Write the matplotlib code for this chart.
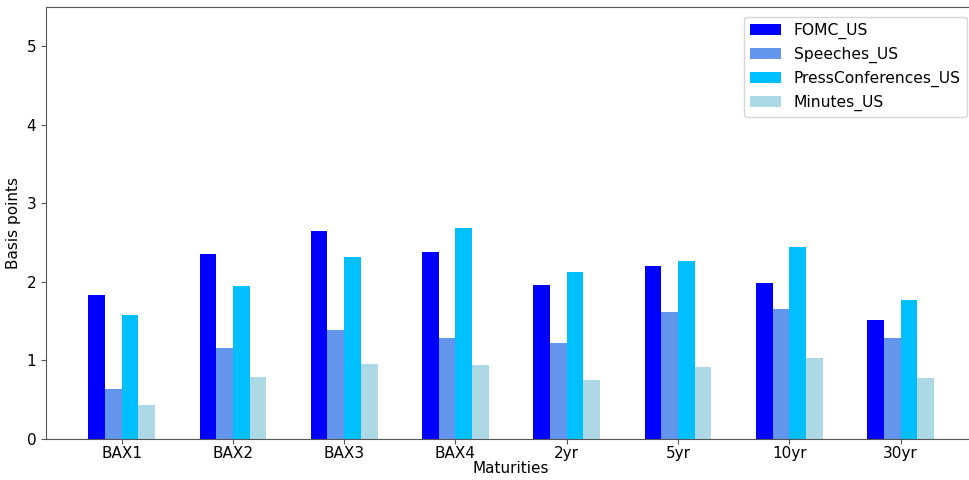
import numpy as np
import matplotlib.pyplot as plt

maturities = ["BAX1", "BAX2", "BAX3", "BAX4", "2yr", "5yr", "10yr", "30yr"]
fomc_us = [1.83, 2.36, 2.65, 2.38, 1.96, 2.20, 1.98, 1.51]
speeches_us = [0.64, 1.15, 1.38, 1.29, 1.22, 1.61, 1.65, 1.29]
press_us = [1.58, 1.95, 2.32, 2.69, 2.13, 2.26, 2.44, 1.77]
minutes_us = [0.43, 0.79, 0.95, 0.94, 0.75, 0.91, 1.03, 0.78]

series = [
    ("FOMC_US", fomc_us, "blue"),
    ("Speeches_US", speeches_us, "cornflowerblue"),
    ("PressConferences_US", press_us, "deepskyblue"),
    ("Minutes_US", minutes_us, "lightblue"),
]

fig = plt.figure(figsize=(9.7, 4.8), dpi=100)
# the original was cropped on the right, so the axes run slightly past the edge
ax = fig.add_axes([0.0474, 0.086, 0.959, 0.899])

x = np.arange(len(maturities))
w = 0.15
for i, (name, vals, col) in enumerate(series):
    ax.bar(x + (i - 1.5) * w, vals, width=w, color=col, label=name)

ax.set_xticks(x)
ax.set_xticklabels(maturities, fontsize=11)
ax.tick_params(axis="y", labelsize=11)
ax.tick_params(axis="x", pad=2)
ax.set_xlim(-0.68, 7.68)
ax.set_ylim(0, 5.5)
ax.set_xlabel("Maturities", fontsize=11, labelpad=0)
ax.set_ylabel("Basis points", fontsize=11)
for s in ax.spines.values():
    s.set_color("#555555")
ax.spines["right"].set_visible(False)
ax.tick_params(color="#555555")
ax.legend(loc="upper right", fontsize=11.2, borderaxespad=0.6)

fig.savefig("out.png", dpi=100)
